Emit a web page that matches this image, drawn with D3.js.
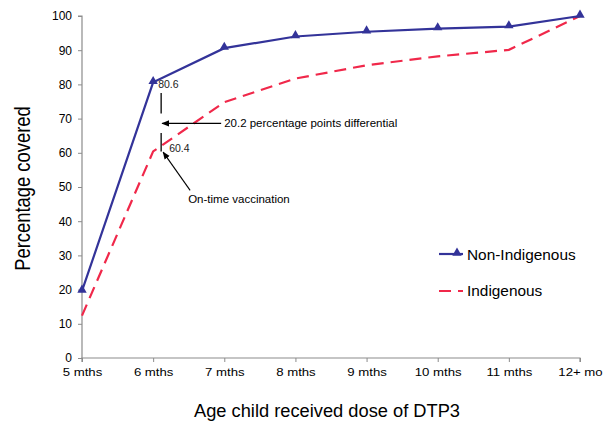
<!DOCTYPE html>
<html>
<head>
<meta charset="utf-8">
<script src="https://cdn.jsdelivr.net/npm/d3@7"></script>
<style>
  body { margin: 0; background: #fff; }
  svg { font-family: "Liberation Sans", Arial, sans-serif; }
</style>
</head>
<body>
<div id="chart"></div>
<script>
const width = 607
const height = 421
const margin = {top: 16, right: 27, bottom: 63, left: 82}

const categories = ["5 mths", "6 mths", "7 mths", "8 mths", "9 mths", "10 mths", "11 mths", "12+ mo"]
const nonIndigenous = [19.6, 80.6, 90.6, 94.0, 95.4, 96.3, 96.9, 100]
const indigenous = [12.4, 60.4, 74.8, 81.7, 85.6, 88.2, 90.1, 100]
const yTicks = [0, 10, 20, 30, 40, 50, 60, 70, 80, 90, 100]

const blue = "#333399"
const red = "#f0284a"
const axisColor = "#8c8c8c"

const svg = d3.select("div#chart").append("svg").attr("width", width).attr("height", height)

const x = d3.scalePoint().domain(categories).range([margin.left, width - margin.right])
const y = d3.scaleLinear().domain([0, 100]).range([height - margin.bottom, margin.top])

// axes
const xAxis = svg.append("g").attr("transform", `translate(0, ${y(0)})`)
  .call(d3.axisBottom(x).tickSize(4).tickPadding(6))
const yAxis = svg.append("g").attr("transform", `translate(${margin.left}, 0)`)
  .call(d3.axisLeft(y).tickValues(yTicks).tickSize(4).tickPadding(6))

svg.selectAll(".domain").attr("stroke", axisColor).attr("stroke-width", 1.2)
svg.selectAll(".tick line").attr("stroke", axisColor)
svg.selectAll(".tick text").attr("fill", "#000")
  .style("font-family", "Liberation Sans, Arial, sans-serif")
xAxis.selectAll(".tick text").style("font-size", "11px").attr("transform", "scale(1.2,1)")
yAxis.selectAll(".tick text").style("font-size", "12px")
xAxis.select(".domain").attr("d", `M${x(categories[0])},4V0H${x(categories[categories.length - 1])}V4`)
yAxis.select(".domain").attr("d", `M-4,${y(100)}H0V${y(0)}`)

// axis titles
svg.append("text")
  .attr("x", 327)
  .attr("y", 417)
  .attr("text-anchor", "middle")
  .attr("textLength", 266).attr("lengthAdjust", "spacingAndGlyphs")
  .style("font-size", "17.5px")
  .text("Age child received dose of DTP3")

svg.append("text")
  .attr("transform", `translate(30, 188.5) scale(1.15,1) rotate(-90)`)
  .attr("text-anchor", "middle")
  .style("font-size", "18.4px")
  .text("Percentage covered")

// lines
const line = d3.line().x((d, i) => x(categories[i])).y(d => y(d))

svg.append("path").datum(indigenous)
  .attr("d", line).attr("fill", "none")
  .attr("stroke", red).attr("stroke-width", 2.2)
  .attr("stroke-dasharray", "12,7")

svg.append("path").datum(nonIndigenous)
  .attr("d", line).attr("fill", "none")
  .attr("stroke", blue).attr("stroke-width", 2.2)

const tri = d3.symbol().type(d3.symbolTriangle).size(38)
svg.selectAll(".marker").data(nonIndigenous).enter()
  .append("path").attr("class", "marker")
  .attr("d", tri)
  .attr("transform", (d, i) => `translate(${x(categories[i])}, ${y(d) - 1})`)
  .attr("fill", blue)

// annotations
svg.append("defs").append("marker")
  .attr("id", "arr").attr("viewBox", "0 0 10 10")
  .attr("refX", 9).attr("refY", 5)
  .attr("markerWidth", 7).attr("markerHeight", 7)
  .attr("orient", "auto-start-reverse")
  .append("path").attr("d", "M0,1L10,5L0,9z").attr("fill", "#000")

const ax = x("6 mths")
svg.append("text").attr("x", ax + 5).attr("y", y(nonIndigenous[1]) + 6)
  .style("font-size", "10.5px").attr("fill", "#222").text(nonIndigenous[1])
svg.append("text").attr("x", ax + 16).attr("y", y(indigenous[1]) + 1)
  .style("font-size", "10.5px").attr("fill", "#222").text(indigenous[1])

svg.append("line").attr("x1", ax + 8).attr("x2", ax + 8)
  .attr("y1", y(77.5)).attr("y2", y(71.5)).attr("stroke", "#000").attr("stroke-width", 1.3)
svg.append("line").attr("x1", ax + 8).attr("x2", ax + 8)
  .attr("y1", y(65.8)).attr("y2", y(60.4)).attr("stroke", "#000").attr("stroke-width", 1.3)

svg.append("line").attr("x1", ax + 68).attr("x2", ax + 9)
  .attr("y1", y(68.6)).attr("y2", y(68.6))
  .attr("stroke", "#000").attr("stroke-width", 1.1).attr("marker-end", "url(#arr)")
svg.append("text").attr("x", ax + 71).attr("y", y(68.6) + 4)
  .style("font-size", "11.5px").text("20.2 percentage points differential")

svg.append("line").attr("x1", ax + 37).attr("x2", ax + 10)
  .attr("y1", y(49)).attr("y2", y(60.2))
  .attr("stroke", "#000").attr("stroke-width", 1.1).attr("marker-end", "url(#arr)")
svg.append("text").attr("x", ax + 35).attr("y", y(45.2))
  .style("font-size", "11.5px").text("On-time vaccination")

// legend
const legend = svg.append("g").attr("transform", `translate(439, 0)`)
legend.append("line").attr("x1", 0).attr("x2", 24).attr("y1", 254).attr("y2", 254)
  .attr("stroke", blue).attr("stroke-width", 2.2)
legend.append("path").attr("d", tri).attr("transform", "translate(18, 253)").attr("fill", blue)
legend.append("text").attr("x", 28).attr("y", 259.5).style("font-size", "15.4px").text("Non-Indigenous")
legend.append("line").attr("x1", 0).attr("x2", 24).attr("y1", 291).attr("y2", 291)
  .attr("stroke", red).attr("stroke-width", 2.2).attr("stroke-dasharray", "12,7")
legend.append("text").attr("x", 28).attr("y", 296).style("font-size", "15.4px").text("Indigenous")
</script>
</body>
</html>
